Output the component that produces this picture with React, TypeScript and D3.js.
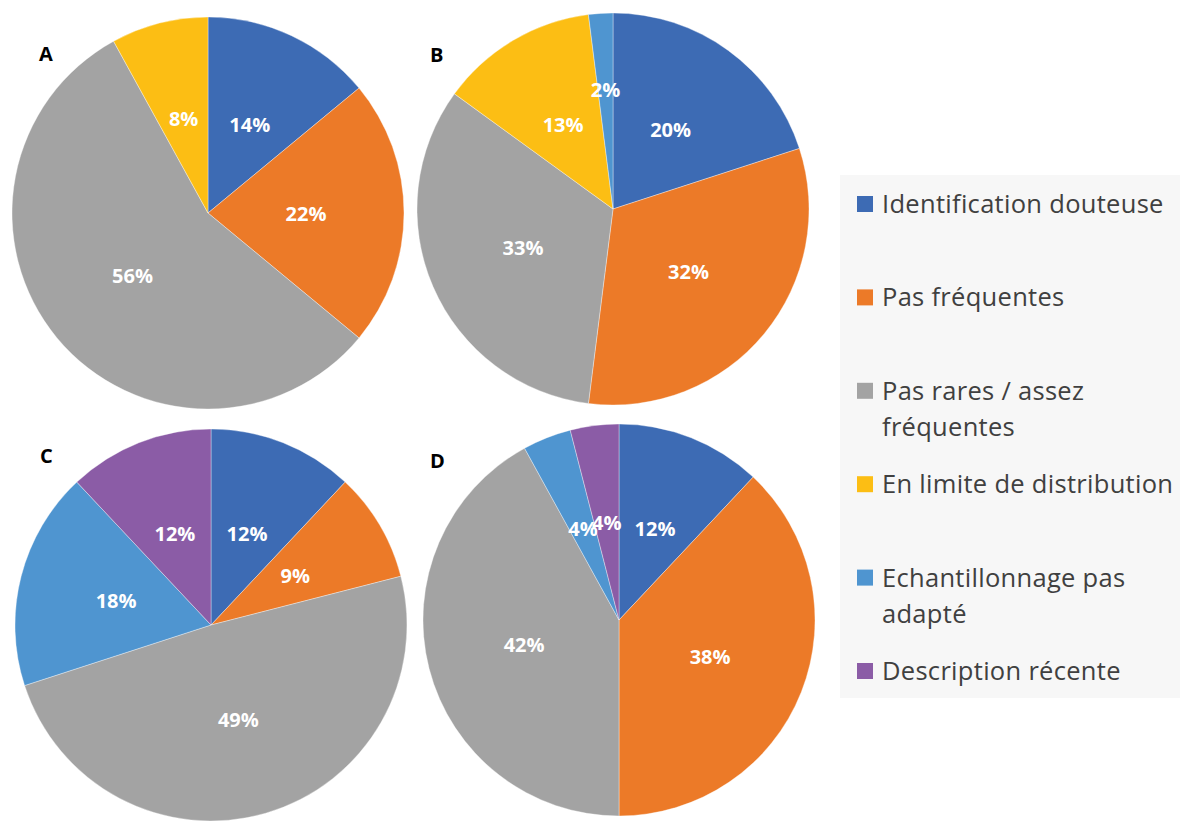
import React from "react";
import * as d3 from "d3";

// Categories, in the clockwise order the slices are drawn
const categories = [
  "Identification douteuse",
  "Pas fréquentes",
  "Pas rares / assez fréquentes",
  "En limite de distribution",
  "Echantillonnage pas adapté",
  "Description récente",
];

// Legend text, wrapped as shown
const legendLines = [
  ["Identification douteuse"],
  ["Pas fréquentes"],
  ["Pas rares / assez", "fréquentes"],
  ["En limite de distribution"],
  ["Echantillonnage pas", "adapté"],
  ["Description récente"],
];

const colors = ["#3d6bb4", "#ec7a28", "#a3a3a3", "#fcbe14", "#4f95d0", "#8b5ca6"];

// Percentages per panel (same order as categories)
const panelNames = ["A", "B", "C", "D"];
const valuesA = [14, 22, 56, 8, 0, 0];
const valuesB = [20, 32, 33, 13, 2, 0];
const valuesC = [12, 9, 49, 0, 18, 12];
const valuesD = [12, 38, 42, 0, 4, 4];
const panelValues = [valuesA, valuesB, valuesC, valuesD];

// Layout of the four pies
const layout = [
  { cx: 208, cy: 213, lx: 39, ly: 61 },
  { cx: 613, cy: 209, lx: 430, ly: 62 },
  { cx: 211, cy: 625, lx: 40, ly: 463 },
  { cx: 619, cy: 620, lx: 430, ly: 468 },
];
const R = 196;

const FONT = "'Open Sans', Lato, sans-serif";

type Slice = { cat: number; value: number };

function Pie({ values, idx }: { values: number[]; idx: number }) {
  const { cx, cy, lx, ly } = layout[idx];
  const data: Slice[] = values
    .map((v, i) => ({ cat: i, value: v }))
    .filter((d) => d.value > 0);
  const pie = d3.pie<Slice>().value((d) => d.value).sort(null);
  const arcs = pie(data);
  const arc = d3.arc<d3.PieArcDatum<Slice>>().innerRadius(0).outerRadius(R);
  return (
    <g>
      <g transform={`translate(${cx},${cy})`}>
        {arcs.map((a) => (
          <path
            key={a.data.cat}
            d={arc(a) || ""}
            fill={colors[a.data.cat]}
            stroke="#ffffff"
            strokeWidth={0.6}
            strokeOpacity={0.6}
          />
        ))}
        {arcs.map((a) => {
          // very thin slices get their label pushed a bit outward
          const lr = a.data.value < 3 ? R * 0.61 : R * 0.5;
          const [x, y] = d3
            .arc<d3.PieArcDatum<Slice>>()
            .innerRadius(lr)
            .outerRadius(lr)
            .centroid(a);
          return (
            <text
              key={"t" + a.data.cat}
              x={x}
              y={y}
              textAnchor="middle"
              dominantBaseline="central"
              fill="#ffffff"
              fontFamily={FONT}
              fontWeight={700}
              fontSize={20}
            >
              {a.data.value}%
            </text>
          );
        })}
      </g>
      <text x={lx} y={ly} fontFamily={FONT} fontWeight={700} fontSize={20} fill="#000">
        {panelNames[idx]}
      </text>
    </g>
  );
}

export default function App() {
  const legendTop = 204;
  const legendStep = 93.4;
  return (
    <svg
      width={1180}
      height={821}
      style={{ position: "absolute", left: 0, top: 0, display: "block", background: "#ffffff" }}
    >
      <rect x={840} y={175} width={340} height={523} fill="#f7f7f7" />
      {panelValues.map((v, i) => (
        <Pie key={i} values={v} idx={i} />
      ))}
      <g>
        {categories.map((c, i) => {
          const yc = legendTop + i * legendStep;
          return (
            <g key={c}>
              <rect x={857} y={yc - 8} width={16} height={16} fill={colors[i]} />
              <text fontFamily={FONT} fontSize={25.5} letterSpacing={0.3} fill="#404040">
                {legendLines[i].map((line, j) => (
                  <tspan key={j} x={882} y={yc + 9 + j * 36}>
                    {line}
                  </tspan>
                ))}
              </text>
            </g>
          );
        })}
      </g>
    </svg>
  );
}
